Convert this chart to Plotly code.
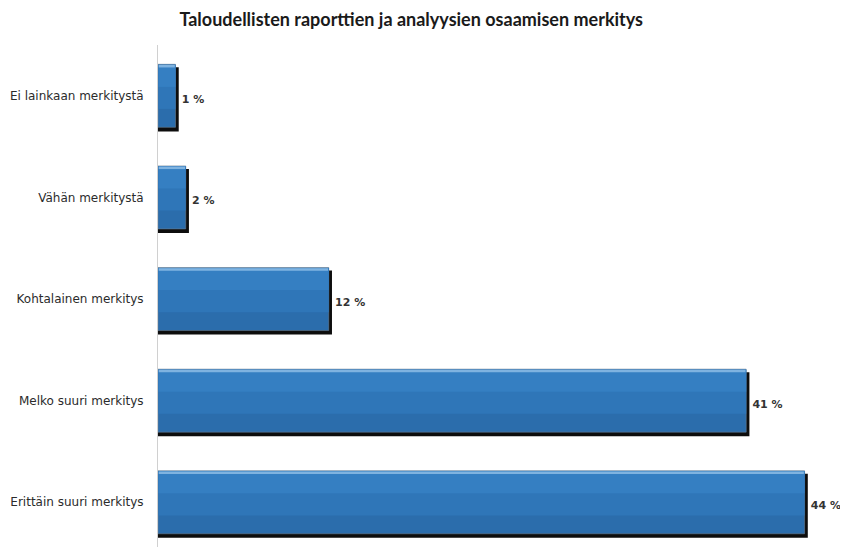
import plotly.graph_objects as go

categories = ["Ei lainkaan merkitystä", "Vähän merkitystä", "Kohtalainen merkitys",
              "Melko suuri merkitys", "Erittäin suuri merkitys"]
values = [1.2, 1.9, 11.7, 40.3, 44.3]
value_labels = ["1 %", "2 %", "12 %", "41 %", "44 %"]
title_text = "Taloudellisten raporttien ja analyysien osaamisen merkitys"

W = 0.62
fig = go.Figure()
# drop shadow
fig.add_trace(go.Bar(
    y=categories, x=[v + 0.22 for v in values], orientation="h",
    width=W + 0.01, offset=-W / 2 + 0.03,
    marker=dict(color="#0d0d0d", line=dict(width=0)),
    text=value_labels, textposition="outside", cliponaxis=False,
    textfont=dict(family="DejaVu Sans", size=11, color="#333333", weight="bold"),
    hoverinfo="skip", showlegend=False))
# main bar (darker lower tone)
fig.add_trace(go.Bar(
    y=categories, x=values, orientation="h",
    width=W, offset=-W / 2,
    marker=dict(color="#2b6dac", line=dict(width=0.6, color="#6a7d90")),
    showlegend=False))
# middle tone
fig.add_trace(go.Bar(
    y=categories, x=[v - 0.03 for v in values], orientation="h",
    width=W * 0.7, offset=-W / 2 + 0.005, base=0.03,
    marker=dict(color="#2f76b8", line=dict(width=0)),
    hoverinfo="skip", showlegend=False))
# upper lighter tone
fig.add_trace(go.Bar(
    y=categories, x=[v - 0.03 for v in values], orientation="h",
    width=W * 0.35, offset=-W / 2 + 0.005, base=0.03,
    marker=dict(color="#357fc2", line=dict(width=0)),
    hoverinfo="skip", showlegend=False))
# top highlight
fig.add_trace(go.Bar(
    y=categories, x=[v - 0.1 for v in values], orientation="h",
    width=0.025, offset=-W / 2 + 0.006, base=0.05,
    marker=dict(color="#7fb3e0", line=dict(width=0)),
    hoverinfo="skip", showlegend=False))

fig.update_layout(
    barmode="overlay",
    width=840, height=539,
    margin=dict(l=150, r=4, t=37, b=0),
    paper_bgcolor="white", plot_bgcolor="white",
    title=dict(text="<b>" + title_text + "</b>", x=0.48, xanchor="center",
               y=0.979, yanchor="middle",
               font=dict(family="Lato", size=18, color="#1a1a1a")),
    xaxis=dict(range=[0, 47], visible=False, fixedrange=True),
    yaxis=dict(categoryorder="array", categoryarray=categories,
               range=[4.44, -0.5], showline=True, linecolor="#d0d0d0",
               linewidth=1, showgrid=False, zeroline=False, ticks="",
               ticklabelstandoff=11,
               tickfont=dict(family="DejaVu Sans", size=12, color="#2b2b2b")),
)
fig.write_html("out.html")
